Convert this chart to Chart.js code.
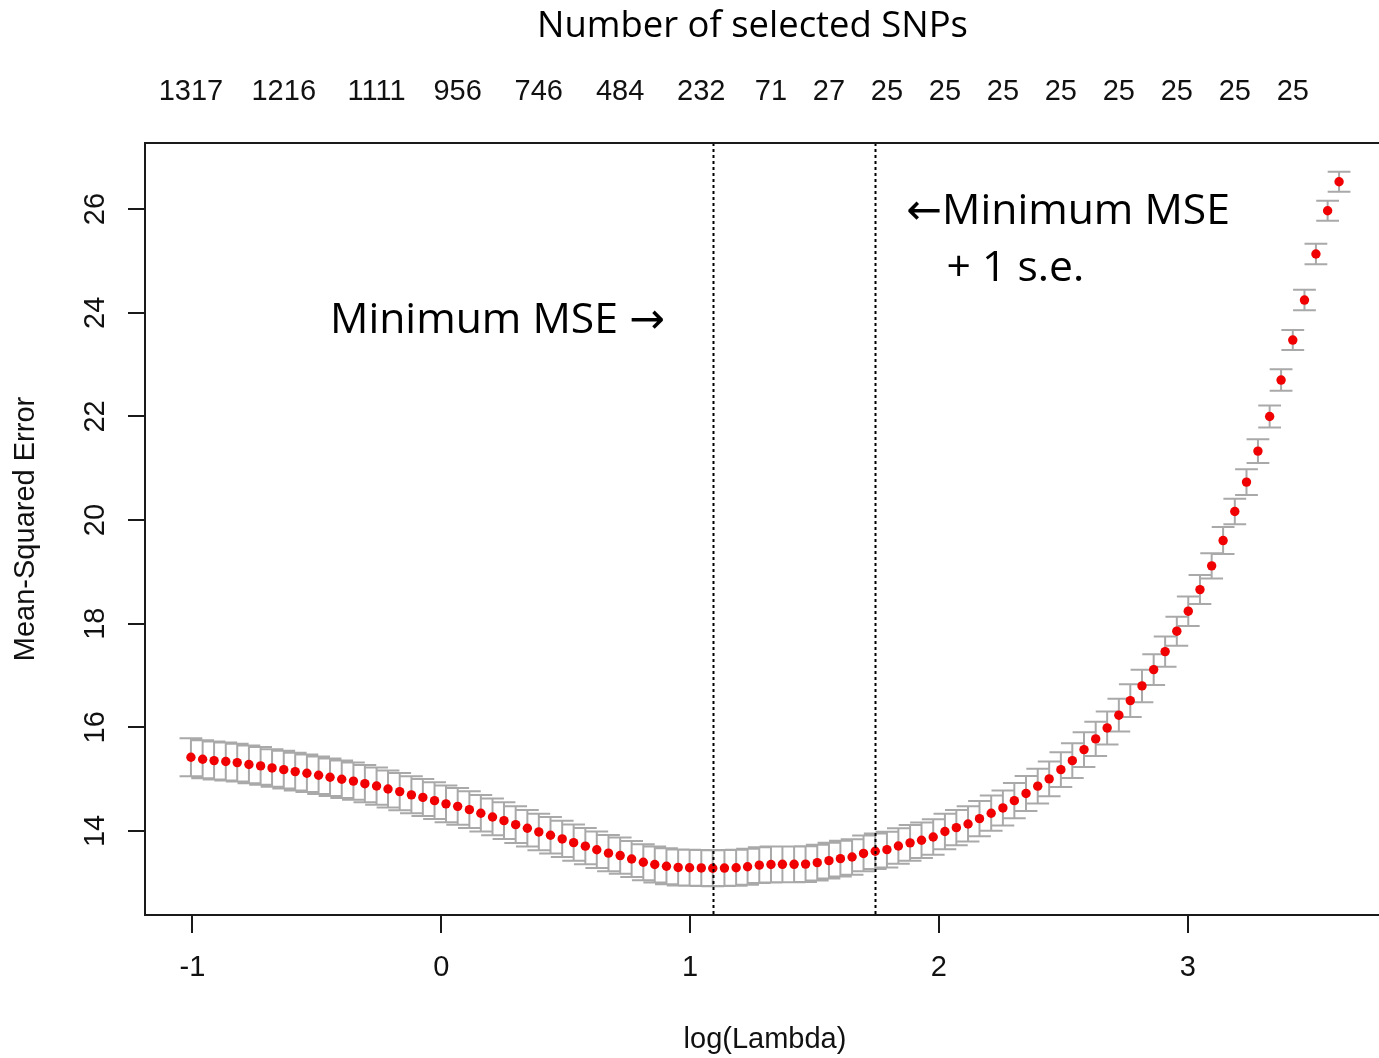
<!DOCTYPE html>
<html>
<head>
<meta charset="utf-8">
<script src="https://cdn.jsdelivr.net/npm/chart.js@4.4.0/dist/chart.umd.min.js"></script>
<style>
  html, body { margin: 0; padding: 0; background: #ffffff; overflow: hidden; }
  #wrap { position: absolute; left: 0; top: 0; width: 1392px; height: 1058px; }
</style>
</head>
<body>
<div id="wrap"><canvas id="c" width="1392" height="1058" style="width:1392px;height:1058px"></canvas></div>
<script>
// ---- data ----
const logLambda = [
  -1.006,-0.959,-0.913,-0.866,-0.820,-0.773,-0.726,-0.680,-0.633,-0.587,
  -0.540,-0.493,-0.447,-0.400,-0.353,-0.307,-0.260,-0.214,-0.167,-0.120,
  -0.074,-0.027, 0.019, 0.066, 0.113, 0.159, 0.206, 0.252, 0.299, 0.346,
   0.392, 0.439, 0.486, 0.532, 0.579, 0.625, 0.672, 0.719, 0.765, 0.812,
   0.858, 0.905, 0.952, 0.998, 1.045, 1.091, 1.138, 1.185, 1.231, 1.278,
   1.325, 1.371, 1.418, 1.464, 1.511, 1.558, 1.604, 1.651, 1.697, 1.744,
   1.791, 1.837, 1.884, 1.930, 1.977, 2.024, 2.070, 2.117, 2.163, 2.210,
   2.257, 2.303, 2.350, 2.397, 2.443, 2.490, 2.536, 2.583, 2.630, 2.676,
   2.723, 2.769, 2.816, 2.863, 2.909, 2.956, 3.002, 3.049, 3.096, 3.142,
   3.189, 3.236, 3.282, 3.329, 3.375, 3.422, 3.469, 3.515, 3.562, 3.608
];
const cvm = [
  15.423,15.384,15.358,15.340,15.319,15.283,15.255,15.216,15.183,15.145,
  15.114,15.075,15.037,14.998,14.962,14.912,14.867,14.810,14.759,14.697,
  14.647,14.585,14.523,14.475,14.411,14.342,14.270,14.199,14.122,14.052,
  13.981,13.917,13.846,13.774,13.707,13.637,13.572,13.525,13.459,13.395,
  13.352,13.319,13.296,13.290,13.286,13.281,13.284,13.290,13.310,13.340,
  13.352,13.356,13.356,13.360,13.388,13.427,13.465,13.498,13.566,13.608,
  13.639,13.710,13.770,13.820,13.884,13.990,14.064,14.135,14.237,14.342,
  14.444,14.585,14.724,14.865,15.004,15.183,15.357,15.570,15.776,15.988,
  16.234,16.515,16.799,17.114,17.461,17.855,18.241,18.658,19.116,19.604,
  20.164,20.732,21.330,21.998,22.701,23.473,24.245,25.133,25.969,26.529
];
const cvsd = [
  0.367,0.366,0.366,0.365,0.365,0.364,0.364,0.363,0.363,0.362,
  0.362,0.361,0.361,0.360,0.360,0.359,0.359,0.358,0.358,0.357,
  0.357,0.356,0.356,0.355,0.355,0.354,0.354,0.353,0.353,0.352,
  0.352,0.351,0.351,0.350,0.350,0.350,0.349,0.349,0.349,0.348,
  0.348,0.348,0.348,0.347,0.347,0.347,0.347,0.347,0.346,0.346,
  0.346,0.346,0.346,0.345,0.345,0.345,0.345,0.344,0.344,0.344,
  0.344,0.343,0.343,0.343,0.342,0.342,0.341,0.341,0.340,0.340,
  0.339,0.338,0.338,0.337,0.336,0.336,0.335,0.334,0.332,0.318,
  0.315,0.315,0.314,0.296,0.293,0.280,0.284,0.280,0.245,0.261,
  0.247,0.247,0.228,0.212,0.208,0.193,0.197,0.197,0.193,0.193
];
const lambdaMinIndex = 45;
const lambda1seIndex = 59;
const xTickValues = [-1, 0, 1, 2, 3];
const yTickValues = [14, 16, 18, 20, 22, 24, 26];
const snpTickIndex  = [0, 8, 16, 23, 30, 37, 44, 50, 55, 60, 65, 70, 75, 80, 85, 90, 95];
const snpTickLabels = ['1317','1216','1111','956','746','484','232','71','27','25','25','25','25','25','25','25','25'];
const xRange = [-1.1906, 3.7926];
const yRange = [12.378, 27.276];
const titleTop = 'Number of selected SNPs';
const xTitle = 'log(Lambda)';
const yTitle = 'Mean-Squared Error';
const noteMin = 'Minimum MSE \u2192';
const noteSe1 = '\u2190Minimum MSE';
const noteSe2 = '+ 1 s.e.';

// ---- styling ----
const RFONT = "'Liberation Sans', Arial, Helvetica, sans-serif";
const NOTEFONT = "'Open Sans', 'DejaVu Sans', sans-serif";
const CAP_HALF = 0.0458; // error bar cap half-width in x units

const errorBars = {
  id: 'errorBars',
  beforeDatasetsDraw(chart) {
    const { ctx, scales: { x, y } } = chart;
    ctx.save();
    ctx.strokeStyle = '#a9a9a9';
    ctx.lineWidth = 2;
    ctx.beginPath();
    logLambda.forEach((lx, i) => {
      const px = x.getPixelForValue(lx);
      const pl = x.getPixelForValue(lx - CAP_HALF);
      const pr = x.getPixelForValue(lx + CAP_HALF);
      const pu = y.getPixelForValue(cvm[i] + cvsd[i]);
      const pd = y.getPixelForValue(cvm[i] - cvsd[i]);
      ctx.moveTo(px, pu); ctx.lineTo(px, pd);
      ctx.moveTo(pl, pu); ctx.lineTo(pr, pu);
      ctx.moveTo(pl, pd); ctx.lineTo(pr, pd);
    });
    ctx.stroke();
    ctx.restore();
  }
};

const refLines = {
  id: 'refLines',
  afterDatasetsDraw(chart) {
    const { ctx, chartArea, scales: { x } } = chart;
    ctx.save();
    ctx.strokeStyle = '#000';
    ctx.lineWidth = 2;
    ctx.setLineDash([3, 3]);
    [lambdaMinIndex, lambda1seIndex].forEach(i => {
      const px = Math.round(x.getPixelForValue(logLambda[i])) + 0.5;
      ctx.beginPath();
      ctx.moveTo(px, chartArea.top);
      ctx.lineTo(px, chartArea.bottom);
      ctx.stroke();
    });
    ctx.restore();
  }
};

function fitSize(ctx, text, family, width) {
  ctx.font = '100px ' + family;
  return 100 * width / ctx.measureText(text).width;
}

const frameAndNotes = {
  id: 'frameAndNotes',
  afterDraw(chart) {
    const { ctx, chartArea } = chart;
    ctx.save();
    ctx.strokeStyle = '#1a1a1a';
    ctx.lineWidth = 2;
    ctx.strokeRect(chartArea.left, chartArea.top, chartArea.right - chartArea.left, chartArea.bottom - chartArea.top);

    ctx.fillStyle = '#000';
    ctx.textBaseline = 'alphabetic';
    // top title
    const ts = fitSize(ctx, titleTop, NOTEFONT, 431);
    ctx.font = ts.toFixed(2) + 'px ' + NOTEFONT;
    ctx.textAlign = 'center';
    ctx.fillText(titleTop, 752.5, 37.3);

    // annotations
    const ns = fitSize(ctx, 'Minimum MSE', NOTEFONT, 288);
    ctx.font = ns.toFixed(2) + 'px ' + NOTEFONT;
    ctx.textAlign = 'left';
    ctx.fillText(noteMin, 330, 333);
    ctx.textAlign = 'right';
    ctx.fillText(noteSe1, 1230, 224);
    ctx.textAlign = 'left';
    ctx.fillText(noteSe2, 946.5, 280.5);
    ctx.restore();
  }
};

const tickFont = { family: RFONT, size: 29 };
const titleFont = { family: RFONT, size: 29 };

new Chart(document.getElementById('c'), {
  type: 'scatter',
  data: {
    datasets: [{
      data: logLambda.map((lx, i) => ({ x: lx, y: cvm[i] })),
      pointRadius: 4.7,
      pointHoverRadius: 4.7,
      pointBackgroundColor: '#f00000',
      pointBorderWidth: 0,
      showLine: false
    }]
  },
  options: {
    responsive: false,
    animation: false,
    devicePixelRatio: 1,
    events: [],
    layout: { padding: { left: 0, right: 7, top: 0, bottom: 0 } },
    plugins: { legend: { display: false }, tooltip: { enabled: false }, title: { display: false } },
    scales: {
      x: {
        type: 'linear', position: 'bottom',
        min: xRange[0], max: xRange[1],
        afterBuildTicks: s => { s.ticks = xTickValues.map(v => ({ value: v })); },
        afterFit: s => { s.height = 143; },
        ticks: { font: tickFont, color: '#111', padding: 18, maxRotation: 0, autoSkip: false, callback: v => String(v) },
        grid: { drawOnChartArea: false, drawTicks: true, tickLength: 18, color: '#1a1a1a', lineWidth: 2 },
        border: { display: false },
        title: { display: true, text: xTitle, font: titleFont, color: '#111', padding: { top: 0, bottom: 1 } }
      },
      x2: {
        type: 'linear', position: 'top',
        min: xRange[0], max: xRange[1],
        afterBuildTicks: s => { s.ticks = snpTickIndex.map(i => ({ value: logLambda[i] })); },
        afterFit: s => { s.height = 143; },
        ticks: { font: tickFont, color: '#111', padding: 34, maxRotation: 0, autoSkip: false,
                 callback: (v, i) => snpTickLabels[i] },
        grid: { display: false, drawTicks: false, tickLength: 0 },
        border: { display: false }
      },
      y: {
        type: 'linear', position: 'left',
        min: yRange[0], max: yRange[1],
        afterBuildTicks: s => { s.ticks = yTickValues.map(v => ({ value: v })); },
        afterFit: s => { s.width = 145; },
        ticks: { font: tickFont, color: '#111', padding: 16, minRotation: 90, maxRotation: 90,
                 crossAlign: 'center', autoSkip: false, callback: v => String(v) },
        grid: { drawOnChartArea: false, drawTicks: true, tickLength: 17, color: '#1a1a1a', lineWidth: 2 },
        border: { display: false },
        title: { display: true, text: yTitle, font: titleFont, color: '#111', padding: { top: 9, bottom: 0 } }
      }
    }
  },
  plugins: [errorBars, refLines, frameAndNotes]
});
</script>
</body>
</html>
